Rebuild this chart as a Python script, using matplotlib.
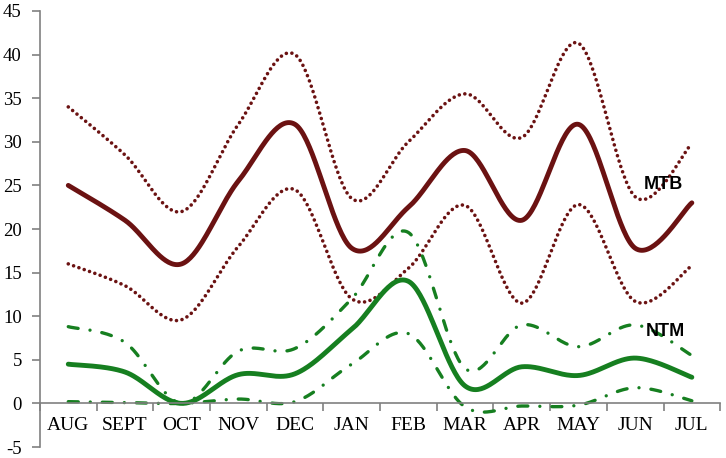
import matplotlib.pyplot as plt
import numpy as np

# months on the x axis
months = ['AUG', 'SEPT', 'OCT', 'NOV', 'DEC', 'JAN', 'FEB', 'MAR', 'APR', 'MAY', 'JUN', 'JUL']

# MTB: mean with upper / lower bounds
mtb = [25, 21, 16, 25.5, 32, 17.8, 22.5, 29, 21, 32, 17.8, 23]
mtb_hi = [34, 28.5, 22, 32, 40, 23.5, 30, 35.5, 30.5, 41.3, 23.7, 29.8]
mtb_lo = [16, 13.5, 9.6, 18, 24.5, 12, 15.5, 22.7, 11.5, 22.8, 11.7, 15.8]

# NTM: mean with upper / lower bounds
ntm = [4.5, 3.6, 0, 3.3, 3.4, 8.5, 14, 2, 4.2, 3.2, 5.2, 3]
ntm_hi = [8.8, 7, 0, 6, 6.3, 12, 19.6, 4, 9, 6.5, 9, 5.5]
ntm_lo = [0.2, 0.1, 0, 0.5, 0.2, 4.5, 8, -0.4, -0.3, -0.2, 1.8, 0.3]

yticks = list(range(-5, 50, 5))

red = '#6B1212'
green = '#167F20'


def smooth(y, n=40):
    # Excel-like smoothed line (Catmull-Rom through bezier segments)
    x = np.arange(len(y), dtype=float)
    y = np.asarray(y, dtype=float)
    px = np.concatenate([[x[0]], x, [x[-1]]])
    py = np.concatenate([[y[0]], y, [y[-1]]])
    t = np.linspace(0, 1, n)[:, None]
    xs, ys = [], []
    for i in range(len(y) - 1):
        p0 = np.array([px[i + 1], py[i + 1]])
        p3 = np.array([px[i + 2], py[i + 2]])
        p1 = p0 + (p3 - np.array([px[i], py[i]])) / 6
        p2 = p3 - (np.array([px[i + 3], py[i + 3]]) - p0) / 6
        b = ((1 - t) ** 3) * p0 + 3 * ((1 - t) ** 2) * t * p1 + 3 * (1 - t) * t ** 2 * p2 + t ** 3 * p3
        xs.append(b[:, 0])
        ys.append(b[:, 1])
    return np.concatenate(xs), np.concatenate(ys)


fig = plt.figure(figsize=(7.26, 4.58), dpi=100)
ax = fig.add_axes([0.055, 0.024, 0.937, 0.952])

dotted = (0, (0.01, 1.55))
dashdot = (0, (3.0, 3.6, 0.01, 3.6))

for vals, ls, lw in [(mtb, '-', 3.5), (mtb_hi, dotted, 2.6), (mtb_lo, dotted, 2.6)]:
    sx, sy = smooth(vals)
    ax.plot(sx, sy, color=red, lw=lw, linestyle=ls, dash_capstyle='round', solid_capstyle='round')

for vals, ls, lw in [(ntm, '-', 3.5), (ntm_hi, dashdot, 2.4), (ntm_lo, dashdot, 2.4)]:
    sx, sy = smooth(vals)
    ax.plot(sx, sy, color=green, lw=lw, linestyle=ls, dash_capstyle='round', solid_capstyle='round')

ax.text(10.5, 25.1, 'MTB', fontsize=13, fontweight='bold', family='Liberation Sans', ha='center', va='center')
ax.text(10.54, 8.3, 'NTM', fontsize=13, fontweight='bold', family='Liberation Sans', ha='center', va='center')

ax.set_xlim(-0.5, len(months) - 0.5)
ax.set_ylim(-5, 45)
ax.set_yticks(yticks)
ax.set_yticklabels([str(v) for v in yticks], family='Liberation Serif', fontsize=13.5)

ax.spines['top'].set_visible(False)
ax.spines['right'].set_visible(False)
ax.spines['bottom'].set_position(('data', 0))
for s in ['left', 'bottom']:
    ax.spines[s].set_color('#808080')
    ax.spines[s].set_linewidth(1.2)

# category labels centred, ticks between categories
ax.set_xticks(np.arange(-0.5, len(months), 1))
ax.set_xticklabels([])
ax.set_xticks(np.arange(len(months)), minor=True)
ax.set_xticklabels(months, minor=True, family='Liberation Serif', fontsize=14)
ax.tick_params(axis='x', which='major', direction='out', length=6, color='#808080', width=1.2)
ax.tick_params(axis='x', which='minor', length=0, pad=10)
ax.tick_params(axis='y', direction='out', length=6, color='#808080', width=1.2, pad=7)

plt.savefig('out.png', dpi=100)
